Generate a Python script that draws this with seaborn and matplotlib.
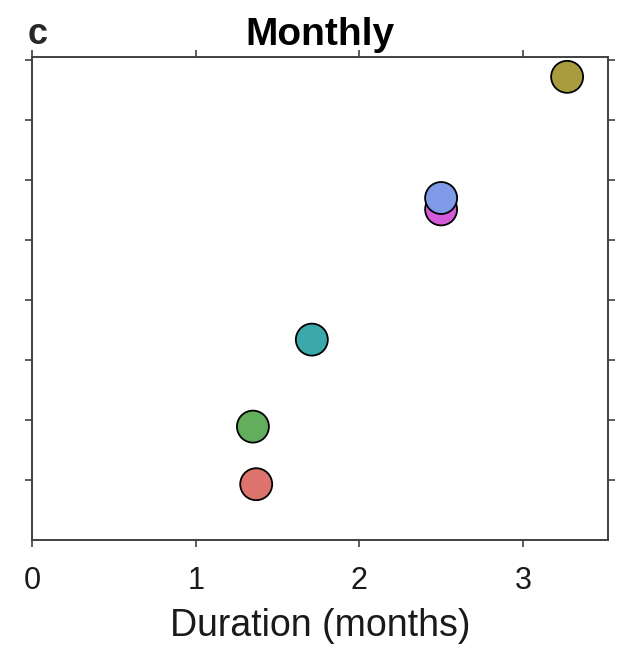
import matplotlib
matplotlib.use("Agg")
import matplotlib.pyplot as plt
import pandas as pd
import seaborn as sns

# ── Data ──────────────────────────────────────────────────────────────────
groups = ["g1", "g2", "g3", "g4", "g5", "g6"]
duration = [1.37, 1.35, 1.71, 2.50, 2.50, 3.27]
rank = [0.93, 1.89, 3.34, 5.51, 5.70, 7.72]
colors = ["#DC736D", "#63AE5D", "#3BA9AB", "#D55CD9", "#7F9BE8", "#A89C3F"]

df = pd.DataFrame({"group": groups, "duration": duration, "rank": rank})

# ── Figure ────────────────────────────────────────────────────────────────
sns.set_style("white")
plt.rcParams["font.family"] = ["Liberation Sans", "DejaVu Sans"]

fig = plt.figure(figsize=(6.24, 6.54), dpi=100)
ax = fig.add_axes([0.0513, 0.1743, 0.9231, 0.7385])

sns.scatterplot(data=df, x="duration", y="rank", hue="group", palette=colors,
                s=530, edgecolor="black", linewidth=1.3, legend=False,
                ax=ax, zorder=3)

ax.set_xlim(0, 3.52)
ax.set_ylim(0, 8.05)
ax.set_xticks([0, 1, 2, 3])
ax.set_yticks(range(1, 9))
ax.set_yticklabels([])
ax.set_ylabel("")
ax.set_xlabel("Duration (months)", fontsize=27, color="#1a1a1a", labelpad=8)

for sp in ax.spines.values():
    sp.set_visible(True)
    sp.set_color("#404040")
    sp.set_linewidth(1.4)

ax.tick_params(axis="both", which="both", direction="out", length=5, width=1.2,
               color="#404040", top=True, right=True, bottom=True, left=True,
               labeltop=False, labelright=False, labelleft=False)
ax.tick_params(axis="x", labelsize=22, labelcolor="#1a1a1a", pad=14)

ax.set_title("Monthly", fontsize=28, fontweight="bold", color="black", pad=9)
fig.text(0.045, 0.933, "c", fontsize=26, fontweight="bold", ha="left", va="baseline")

fig.savefig("out.png", dpi=100)
